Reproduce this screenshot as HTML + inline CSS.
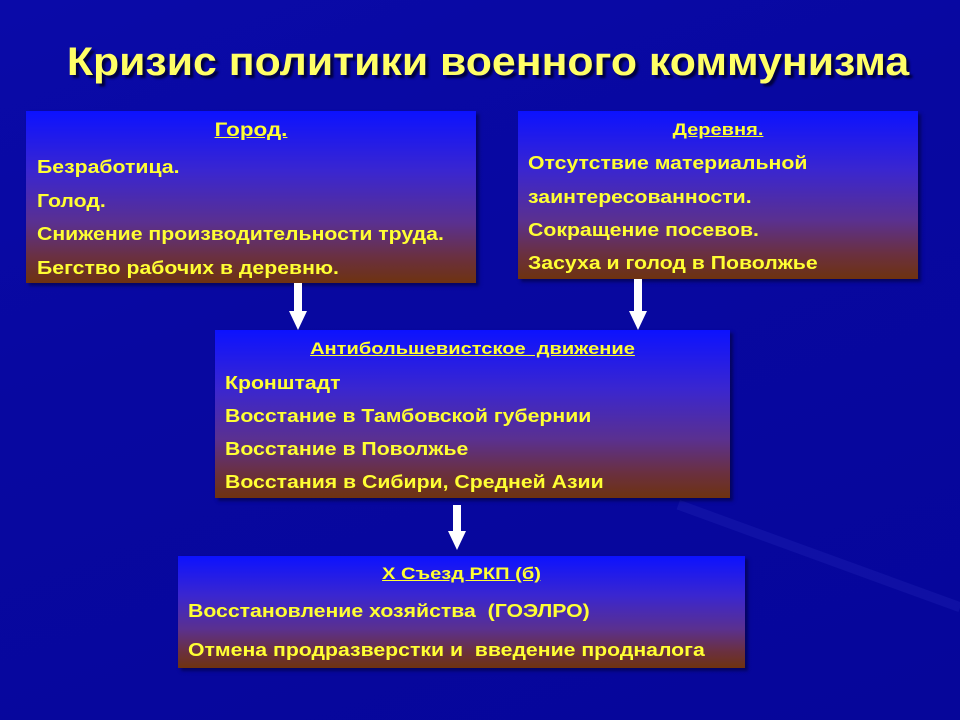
<!DOCTYPE html>
<html><head><meta charset="utf-8"><style>
html,body{margin:0;padding:0}
body{width:960px;height:720px;position:relative;overflow:hidden;background:#08089a;font-family:"Liberation Sans",sans-serif;font-weight:bold;color:#ffff33}
.bg{position:absolute;inset:0;background:linear-gradient(160deg,#0a0aa8 0%,#0808a0 40%,#06069a 100%)}
.ray{position:absolute;background:rgba(80,90,230,0.12);transform-origin:0 0}
h1{position:absolute;left:0;width:976px;top:40px;margin:0;text-align:center;font-size:40px;color:#ffff66;text-shadow:3px 3px 2px #000040;font-weight:bold;transform:scaleX(1.07)}
.box{position:absolute;background:linear-gradient(to bottom,#0c12ff 0%,#3a26d0 35%,#5a3090 65%,#6a3040 85%,#6e3210 100%);box-shadow:3px 3px 3px rgba(0,0,40,0.5)}
.box div{position:absolute;font-size:18px;white-space:nowrap;transform:scaleX(1.18);transform-origin:0 0}
.box div.h{text-decoration:underline;transform-origin:50% 0}
.arrow{position:absolute}
</style></head><body>
<div class="bg"></div>
<div class="ray" style="left:680px;top:500px;width:300px;height:10px;transform:rotate(20deg)"></div>
<h1>Кризис политики военного коммунизма</h1>

<div class="box" style="left:26px;top:111px;width:450px;height:172px">
<div class="h" style="left:0;width:450px;text-align:center;top:9px;font-size:19px">Город.</div>
<div style="left:11px;top:46px">Безработица.</div>
<div style="left:11px;top:80px">Голод.</div>
<div style="left:11px;top:113px">Снижение производительности труда.</div>
<div style="left:11px;top:147px">Бегство рабочих в деревню.</div>
</div>

<div class="box" style="left:518px;top:111px;width:400px;height:168px">
<div class="h" style="left:0;width:400px;text-align:center;top:9px;font-size:17px">Деревня.</div>
<div style="left:10px;top:42px">Отсутствие материальной</div>
<div style="left:10px;top:76px">заинтересованности.</div>
<div style="left:10px;top:109px">Сокращение посевов.</div>
<div style="left:10px;top:142px">Засуха и голод в Поволжье</div>
</div>

<div class="box" style="left:215px;top:330px;width:515px;height:168px">
<div class="h" style="left:0;width:515px;text-align:center;top:9px;font-size:17px">Антибольшевистское&nbsp; движение</div>
<div style="left:10px;top:43px">Кронштадт</div>
<div style="left:10px;top:76px">Восстание в Тамбовской губернии</div>
<div style="left:10px;top:109px">Восстание в Поволжье</div>
<div style="left:10px;top:142px">Восстания в Сибири, Средней Азии</div>
</div>

<div class="box" style="left:178px;top:556px;width:567px;height:112px">
<div class="h" style="left:0;width:567px;text-align:center;top:8px;font-size:17px">Х Съезд РКП (б)</div>
<div style="left:10px;top:45px">Восстановление хозяйства&nbsp; (ГОЭЛРО)</div>
<div style="left:10px;top:84px">Отмена продразверстки и&nbsp; введение продналога</div>
</div>

<svg class="arrow" style="left:0;top:0" width="960" height="720">
<g fill="#fff">
<rect x="294" y="283" width="8" height="30"/><polygon points="289,311 307,311 298,330"/>
<rect x="634" y="279" width="8" height="34"/><polygon points="629,311 647,311 638,330"/>
<rect x="453" y="505" width="8" height="28"/><polygon points="448,531 466,531 457,550"/>
</g></svg>
</body></html>
